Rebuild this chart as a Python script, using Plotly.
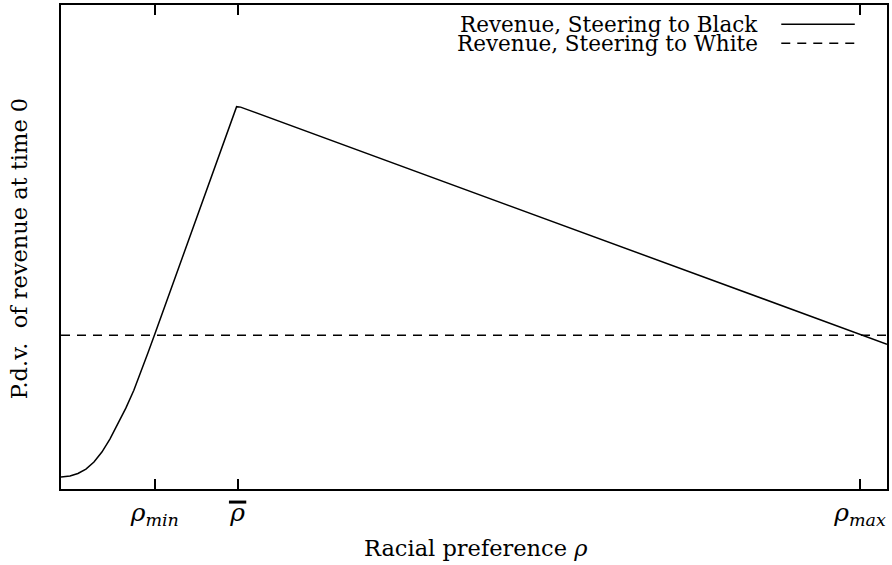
import plotly.graph_objects as go

# Racial preference (normalised axis units)
rho = [0.000, 0.0109, 0.0205, 0.0302, 0.0399, 0.0495, 0.0592, 0.0688, 0.0785,
       0.0882, 0.0978, 0.1051, 0.1135, 0.2126, 0.2174, 1.000]
# Present discounted value of revenue when steering to Black buyers
rev_black = [0.0247, 0.0268, 0.0320, 0.0412, 0.0557, 0.0763, 0.1031, 0.1340, 0.1670,
             0.2041, 0.2454, 0.2804, 0.3196, 0.790, 0.789, 0.299]
# Revenue when steering to White buyers (constant)
rho_white = [0.0, 1.0]
rev_white = [0.3175, 0.3175]

# Marked preference thresholds on the horizontal axis
rho_min = 0.1135
rho_bar = 0.2138
rho_max = 0.9674
tick_vals = [rho_min, rho_bar, rho_max]
tick_text = ["<i>ρ<sub>min</sub></i>", "<i>ρ</i>", "<i>ρ<sub>max</sub></i>"]

FONT = "DejaVu Serif"
fig = go.Figure()
fig.add_trace(go.Scatter(x=rho, y=rev_black, mode="lines",
                         line=dict(color="black", width=1.5),
                         name="Revenue, Steering to Black"))
fig.add_trace(go.Scatter(x=rho_white, y=rev_white, mode="lines",
                         line=dict(color="black", width=1.5, dash="9px,7px"),
                         name="Revenue, Steering to White"))

fig.update_layout(
    width=892, height=565,
    margin=dict(l=61, r=3, t=4, b=76),
    plot_bgcolor="white", paper_bgcolor="white",
    showlegend=False,
    font=dict(family=FONT, size=22, color="black"),
)
fig.update_xaxes(range=[0, 1], showgrid=False, zeroline=False,
                 showline=True, linecolor="black", linewidth=2, mirror="ticks",
                 ticks="inside", ticklen=10, tickwidth=1.5, tickcolor="black",
                 tickvals=tick_vals, ticktext=tick_text,
                 tickfont=dict(family=FONT, size=25))
fig.update_yaxes(range=[0, 1], showgrid=False, zeroline=False,
                 showline=True, linecolor="black", linewidth=2, mirror=True,
                 ticks="", showticklabels=False)

# Overbar on the rho-bar tick label
fig.add_shape(type="line", xref="x", yref="paper",
              x0=rho_bar - 0.0105, x1=rho_bar + 0.0105, y0=-0.027, y1=-0.027,
              line=dict(color="black", width=3))

# Axis titles
fig.add_annotation(text="Racial preference <i>ρ</i>", xref="paper", yref="paper",
                   x=0.503, y=-0.122, xanchor="center", yanchor="middle",
                   showarrow=False, font=dict(family=FONT, size=22.5))
fig.add_annotation(text="P.d.v.  of revenue at time 0", xref="paper", yref="paper",
                   x=-0.05, y=0.497, xanchor="center", yanchor="middle",
                   textangle=-90, showarrow=False, font=dict(family=FONT, size=22.5))

# Key: label text on the left, line sample on the right
key = [("Revenue, Steering to Black", "solid", 0.960),
       ("Revenue, Steering to White", "9px,7px", 0.921)]
for label, dash, ky in key:
    fig.add_annotation(text=label, xref="paper", yref="paper", x=0.846, y=ky,
                       xanchor="right", yanchor="middle", showarrow=False,
                       font=dict(family=FONT, size=21.5))
    fig.add_shape(type="line", xref="paper", yref="paper",
                  x0=0.872, x1=0.961, y0=ky, y1=ky,
                  line=dict(color="black", width=1.5, dash=dash))

fig.write_html("out.html")
